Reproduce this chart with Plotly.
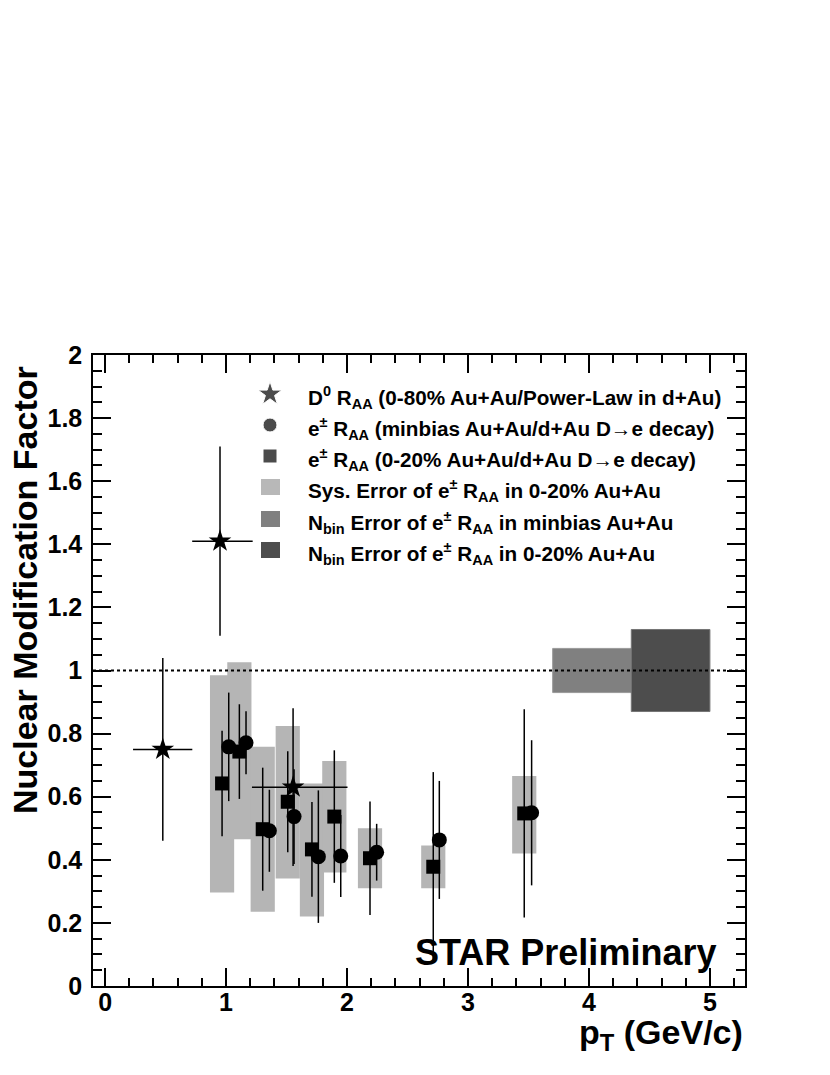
import plotly.graph_objects as go

# D0 R_AA (0-80% Au+Au / power-law d+Au)
pt_d0 = [0.477, 0.95, 1.554]
raa_d0 = [0.75, 1.41, 0.63]
err_d0 = [0.29, 0.30, 0.25]
pt_d0_lo = [0.246, 0.23, 0.34]
pt_d0_hi = [0.244, 0.27, 0.45]

# e+- R_AA minbias
pt_mb = [1.022, 1.165, 1.358, 1.562, 1.763, 1.948, 2.245, 2.763, 3.526]
raa_mb = [0.758, 0.771, 0.492, 0.537, 0.41, 0.412, 0.424, 0.463, 0.549]
err_mb = [0.172, 0.10, 0.13, 0.15, 0.21, 0.13, 0.09, 0.187, 0.23]

# e+- R_AA 0-20% central
pt_c = [0.967, 1.11, 1.303, 1.51, 1.71, 1.895, 2.19, 2.713, 3.465]
raa_c = [0.642, 0.743, 0.497, 0.584, 0.433, 0.537, 0.405, 0.378, 0.547]
err_c = [0.167, 0.15, 0.195, 0.16, 0.15, 0.21, 0.18, 0.30, 0.33]
sys_lo = [0.296, 0.465, 0.235, 0.341, 0.22, 0.36, 0.31, 0.31, 0.42]
sys_hi = [0.985, 1.026, 0.758, 0.824, 0.642, 0.713, 0.50, 0.445, 0.666]

# N_bin normalisation errors (minbias, 0-20%)
nbin_x = [4.025, 4.675]
nbin_lo = [0.93, 0.87]
nbin_hi = [1.07, 1.13]

legend_labels = [
    "D<sup>0</sup> R<sub>AA</sub> (0-80% Au+Au/Power-Law in d+Au)",
    "e<sup>±</sup> R<sub>AA</sub> (minbias Au+Au/d+Au D→e decay)",
    "e<sup>±</sup> R<sub>AA</sub> (0-20% Au+Au/d+Au D→e decay)",
    "Sys. Error of e<sup>±</sup> R<sub>AA</sub> in 0-20% Au+Au",
    "N<sub>bin</sub> Error of e<sup>±</sup> R<sub>AA</sub> in minbias Au+Au",
    "N<sub>bin</sub> Error of e<sup>±</sup> R<sub>AA</sub> in 0-20% Au+Au",
]

FONT = "Liberation Sans"
L, R, T, B = 93, 745, 355, 986
PAGE = 8  # default body margin of the html page


def px(x):
    return (x - L) / (R - L)


def py(y):
    return (B - y) / (B - T)


fig = go.Figure()

fig.add_trace(go.Bar(
    x=pt_c, y=[h - l for h, l in zip(sys_hi, sys_lo)], base=sys_lo,
    width=0.2, marker=dict(color="#b5b5b5", line=dict(width=0)),
    showlegend=False,
))
fig.add_trace(go.Bar(
    x=nbin_x, y=[h - l for h, l in zip(nbin_hi, nbin_lo)], base=nbin_lo,
    width=0.65, marker=dict(color=["#808080", "#4d4d4d"],
                            line=dict(width=1, color=["#9a9a9a", "#757575"])),
    showlegend=False,
))

err = dict(type="data", thickness=1.5, width=0, color="black")
fig.add_trace(go.Scatter(
    x=pt_d0, y=raa_d0, mode="markers",
    marker=dict(symbol="star", size=17, color="black"),
    error_y=dict(array=err_d0, **err),
    error_x=dict(array=pt_d0_hi, arrayminus=pt_d0_lo, **err),
    showlegend=False,
))
fig.add_trace(go.Scatter(
    x=pt_c, y=raa_c, mode="markers",
    marker=dict(symbol="square", size=14, color="black"),
    error_y=dict(array=err_c, **err),
    showlegend=False,
))
fig.add_trace(go.Scatter(
    x=pt_mb, y=raa_mb, mode="markers",
    marker=dict(symbol="circle", size=15, color="black"),
    error_y=dict(array=err_mb, **err),
    showlegend=False,
))

# legend keys
rows = [394, 425, 456, 487, 519, 550]
fig.add_trace(go.Scatter(
    x=[px(270)] * 3, y=[py(r) for r in rows[:3]], mode="markers",
    marker=dict(symbol=["star", "circle", "square"], size=[18, 14, 14], color="black"),
    xaxis="x2", yaxis="y2", showlegend=False, hoverinfo="skip",
))
for r, col in zip(rows[3:], ["#b8b8b8", "#808080", "#4d4d4d"]):
    fig.add_shape(type="rect", xref="paper", yref="paper",
                  x0=px(261), x1=px(280), y0=py(r + 8), y1=py(r - 8),
                  fillcolor=col, line=dict(width=0))
for r, txt in zip(rows, legend_labels):
    fig.add_annotation(x=px(306), y=py(r + 3), xref="paper", yref="paper",
                       text=txt, showarrow=False, xanchor="left", yanchor="middle",
                       font=dict(family=FONT, size=20.7, color="black", weight="bold"))

fig.add_shape(type="line", xref="paper", yref="y", x0=0, x1=1, y0=1, y1=1,
              line=dict(color="black", width=2, dash="dot"), layer="above")

fig.add_annotation(x=px(718), y=py(952), xref="paper", yref="paper",
                   text="STAR Preliminary", showarrow=False,
                   xanchor="right", yanchor="middle",
                   font=dict(family=FONT, size=36, color="black", weight="bold"))
fig.add_annotation(x=1, y=py(1034), xref="paper", yref="paper",
                   text="p<sub>T</sub> (GeV/c)", showarrow=False,
                   xanchor="right", yanchor="middle",
                   font=dict(family=FONT, size=34, color="black", weight="bold"))
fig.add_annotation(x=px(25), y=py(590), xref="paper", yref="paper",
                   text="Nuclear Modification Factor", showarrow=False, textangle=-90,
                   xanchor="center", yanchor="middle",
                   font=dict(family=FONT, size=34, color="black", weight="bold"))

axis = dict(showline=True, linecolor="black", linewidth=1.5, mirror="ticks",
            ticks="inside", ticklen=18, tickwidth=1.5, tickcolor="black",
            showgrid=False, zeroline=False, automargin=False,
            tickfont=dict(family=FONT, size=25, color="black", weight="bold"))
fig.update_layout(
    width=830 - PAGE, height=1075 - PAGE,
    margin=dict(l=L - PAGE, r=830 - R, t=T - PAGE, b=1075 - B),
    paper_bgcolor="white", plot_bgcolor="white",
    barmode="overlay",
    xaxis=dict(range=[-0.1, 5.29], tick0=0, dtick=1,
               minor=dict(dtick=0.2, tick0=0, ticks="inside", ticklen=8,
                          tickwidth=1.5, tickcolor="black"),
               ticklabelstandoff=-7, **axis),
    yaxis=dict(range=[0, 2], tick0=0, dtick=0.2,
               minor=dict(dtick=0.05, tick0=0, ticks="inside", ticklen=9,
                          tickwidth=1.5, tickcolor="black"),
               ticklabelstandoff=4, **axis),
    xaxis2=dict(overlaying="x", range=[0, 1], visible=False),
    yaxis2=dict(overlaying="y", range=[0, 1], visible=False),
    font=dict(family=FONT, color="black"),
)

fig.write_html("out.html")
